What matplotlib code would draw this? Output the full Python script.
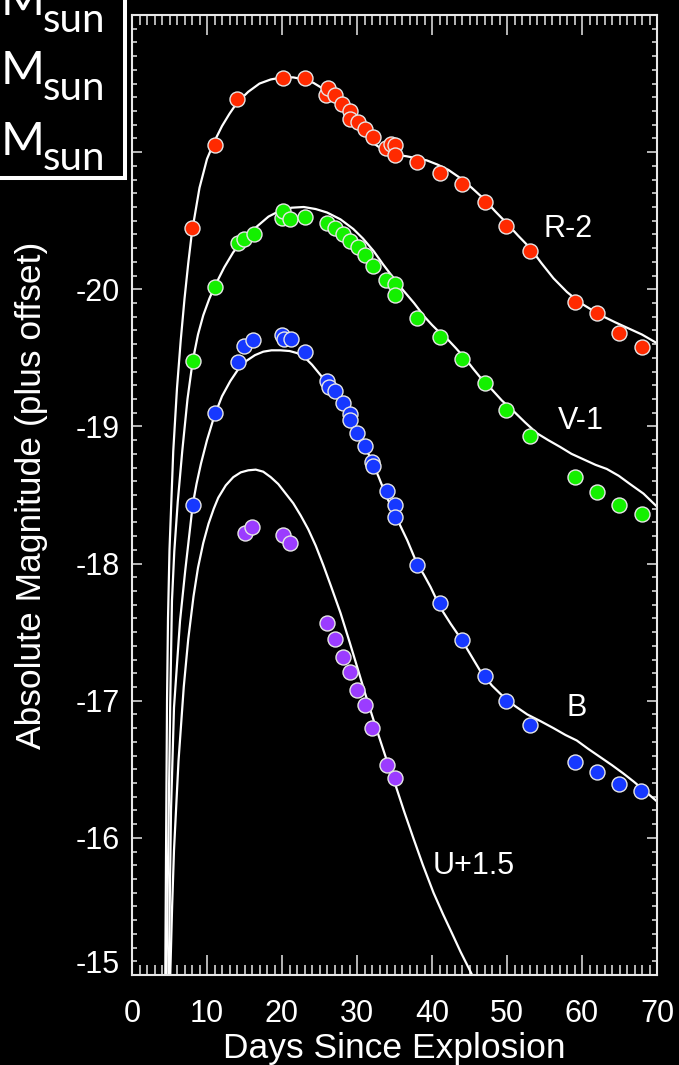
import matplotlib
matplotlib.use('Agg')
import matplotlib.pyplot as plt
from matplotlib.patches import Rectangle
from matplotlib.ticker import MultipleLocator, FuncFormatter

# ---------------- data (plotted magnitudes, offsets already applied) ----------------
R_obs_t = [8.0, 11.1, 14.0, 20.1, 23.0, 25.8, 26.1, 27.1, 28.0, 29.0, 29.1, 30.1, 31.1, 32.1,
           33.8, 34.5, 35.1, 35.1, 38.0, 41.0, 44.0, 47.1, 49.9, 53.0, 59.0, 62.0, 64.9, 68.0]
R_obs_m = [-20.45, -21.05, -21.39, -21.54, -21.54, -21.42, -21.47, -21.42, -21.35, -21.30, -21.24,
           -21.22, -21.17, -21.11, -21.03, -21.06, -21.05, -20.98, -20.93, -20.85, -20.77, -20.64,
           -20.46, -20.28, -19.91, -19.83, -19.68, -19.58]

V_obs_t = [8.1, 11.1, 14.1, 14.9, 16.2, 20.0, 20.1, 21.1, 23.0, 26.0, 27.1, 28.1, 29.1, 30.1, 31.1,
           32.1, 33.9, 35.1, 35.0, 38.0, 41.0, 44.0, 47.1, 49.9, 53.0, 59.0, 62.0, 64.9, 68.0]
V_obs_m = [-19.48, -20.02, -20.34, -20.37, -20.40, -20.52, -20.57, -20.51, -20.53, -20.48, -20.45,
           -20.40, -20.35, -20.31, -20.25, -20.17, -20.07, -20.04, -19.96, -19.79, -19.65, -19.49,
           -19.32, -19.12, -18.93, -18.63, -18.52, -18.43, -18.36]

B_obs_t = [8.1, 11.0, 14.1, 14.9, 16.1, 20.0, 20.2, 21.2, 23.0, 26.0, 26.2, 27.0, 28.1, 29.1, 29.1,
           30.0, 31.0, 32.0, 32.1, 34.0, 35.0, 35.1, 38.0, 41.0, 44.0, 47.0, 49.9, 53.0, 59.0, 62.0,
           64.9, 67.9]
B_obs_m = [-18.43, -19.10, -19.47, -19.59, -19.63, -19.67, -19.64, -19.64, -19.54, -19.33, -19.29,
           -19.26, -19.17, -19.09, -19.05, -18.95, -18.86, -18.74, -18.71, -18.53, -18.43, -18.34,
           -17.99, -17.71, -17.44, -17.18, -17.00, -16.82, -16.55, -16.48, -16.39, -16.34]

U_obs_t = [15.1, 16.0, 20.1, 21.1, 26.0, 27.0, 28.1, 29.0, 30.0, 31.0, 32.0, 34.0, 35.0]
U_obs_m = [-18.22, -18.27, -18.21, -18.15, -17.57, -17.45, -17.32, -17.21, -17.08, -16.97, -16.80,
           -16.53, -16.44]

# model light curves
R_mod_t = [4.44, 4.55, 4.67, 4.8, 5.0, 5.5, 6.0, 6.5, 7.0, 7.5, 8.0, 9.0, 10.0, 11.0, 12.0, 13.0,
           14.0, 15.5, 17.0, 18.5, 20.0, 21.5, 23.0, 24.2, 25.1, 26.0, 26.9, 27.8, 28.7, 29.5, 30.4,
           31.3, 32.2, 33.1, 34.0, 35.3, 36.6, 38.0, 39.3, 40.7, 42.2, 43.8, 45.3, 46.9, 48.4, 50.0,
           51.5, 53.1, 54.6, 56.2, 58.0, 59.8, 61.3, 62.9, 64.4, 66.0, 68.0, 69.9, 71.0]
R_mod_m = [-15.0, -16.0, -17.0, -17.6, -18.1, -18.82, -19.28, -19.63, -19.93, -20.19, -20.42,
           -20.74, -20.95, -21.08, -21.19, -21.28, -21.36, -21.44, -21.50, -21.53, -21.545, -21.545,
           -21.53, -21.505, -21.475, -21.44, -21.405, -21.36, -21.31, -21.25, -21.18, -21.115,
           -21.065, -21.03, -21.00, -20.98, -20.97, -20.955, -20.94, -20.91, -20.87, -20.81, -20.74,
           -20.66, -20.57, -20.48, -20.39, -20.30, -20.19, -20.08, -19.98, -19.90, -19.85, -19.80,
           -19.76, -19.72, -19.67, -19.61, -19.57]

V_mod_t = [4.6, 4.85, 5.1, 5.33, 5.64, 6.1, 6.7, 7.4, 8.1, 8.8, 9.5, 10.3, 11.1, 12.3, 13.5, 15.0,
           16.7, 18.2, 19.8, 21.3, 22.9, 24.5, 26.0, 27.8, 29.5, 30.8, 32.2, 33.5, 34.9, 36.2, 37.6,
           39.0, 40.0, 41.1, 42.0, 43.2, 44.5, 45.5, 46.4, 47.8, 49.3, 50.9, 52.4, 54.0, 55.5, 57.1,
           58.6, 60.2, 61.8, 63.3, 64.9, 66.4, 68.2, 69.9, 71.0]
V_mod_m = [-15.0, -16.0, -17.0, -17.73, -18.09, -18.45, -18.82, -19.2, -19.48, -19.67, -19.81,
           -19.93, -20.03, -20.16, -20.27, -20.37, -20.46, -20.53, -20.575, -20.595, -20.60, -20.585,
           -20.56, -20.51, -20.44, -20.37, -20.28, -20.18, -20.08, -19.99, -19.90, -19.80, -19.74,
           -19.68, -19.64, -19.57, -19.49, -19.42, -19.36, -19.28, -19.19, -19.11, -19.03, -18.95,
           -18.90, -18.85, -18.80, -18.76, -18.72, -18.69, -18.64, -18.58, -18.51, -18.42, -18.36]

B_mod_t = [4.9, 5.2, 5.6, 6.4, 7.1, 8.1, 8.6, 9.2, 10.0, 11.0, 12.0, 13.1, 14.2, 15.3, 16.4, 17.5,
           18.6, 19.8, 21.0, 22.0, 22.9, 24.0, 25.5, 27.0, 28.7, 30.2, 31.8, 32.9, 34.0, 35.3, 36.7,
           38.0, 38.9, 39.8, 41.1, 42.5, 44.0, 45.2, 46.4, 48.0, 49.5, 51.1, 52.7, 54.5, 56.2, 57.8,
           59.3, 60.8, 62.4, 64.0, 65.5, 66.9, 68.2, 69.9, 71.0]
B_mod_m = [-15.0, -16.2, -16.95, -17.58, -17.95, -18.43, -18.58, -18.73, -18.90, -19.08, -19.22,
           -19.33, -19.42, -19.48, -19.52, -19.545, -19.555, -19.555, -19.55, -19.535, -19.51,
           -19.45, -19.35, -19.24, -19.10, -18.94, -18.77, -18.63, -18.48, -18.33, -18.17, -18.00,
           -17.92, -17.83, -17.68, -17.56, -17.44, -17.33, -17.22, -17.11, -17.03, -16.96, -16.90,
           -16.85, -16.80, -16.75, -16.71, -16.65, -16.59, -16.53, -16.47, -16.41, -16.35, -16.27,
           -16.22]

U_mod_t = [5.1, 5.35, 5.6, 6.2, 6.9, 7.5, 8.2, 8.8, 9.5, 10.2, 10.9, 11.5, 12.5, 13.5, 14.5, 15.5,
           16.5, 17.5, 18.5, 19.5, 20.5, 21.5, 22.5, 23.5, 24.5, 25.5, 26.5, 27.8, 29.0, 30.0, 31.1,
           32.2, 33.1, 34.0, 35.1, 36.3, 37.5, 38.8, 40.2, 41.5, 42.7, 43.8, 44.9, 45.8]
U_mod_m = [-15.0, -15.5, -15.91, -16.56, -17.10, -17.45, -17.76, -17.97, -18.15, -18.29, -18.40,
           -18.48, -18.57, -18.63, -18.665, -18.68, -18.685, -18.67, -18.63, -18.58, -18.51, -18.44,
           -18.35, -18.25, -18.13, -17.99, -17.84, -17.64, -17.43, -17.25, -17.05, -16.86, -16.71,
           -16.56, -16.39, -16.19, -16.00, -15.80, -15.60, -15.44, -15.30, -15.17, -15.05, -14.95]

band_labels = ['R-2', 'V-1', 'B', 'U+1.5']
label_t = [58.2, 59.8, 59.3, 45.5]
label_m = [-20.38, -18.98, -16.89, -15.74]

colors = ['#ff2a00', '#14f000', '#1638ff', '#9b3cff']

# ---------------- figure ----------------
plt.rcParams['axes.unicode_minus'] = False
plt.rcParams['font.family'] = ['Liberation Sans', 'DejaVu Sans']

W, H = 679, 1065
fig = plt.figure(figsize=(W / 100, H / 100), dpi=100, facecolor='black')
ax = fig.add_axes([132 / W, 90 / H, 525 / W, 960 / H])
ax.set_facecolor('black')

models = [(R_mod_t, R_mod_m), (V_mod_t, V_mod_m), (B_mod_t, B_mod_m), (U_mod_t, U_mod_m)]
obs = [(R_obs_t, R_obs_m), (V_obs_t, V_obs_m), (B_obs_t, B_obs_m), (U_obs_t, U_obs_m)]

for (t, m) in models:
    ax.plot(t, m, color='white', lw=1.6, zorder=2, solid_joinstyle='round', solid_capstyle='round')
for (t, m), c in zip(obs, colors):
    ax.plot(t, m, 'o', ms=10.8, mfc=c, mec='#e6e6e6', mew=1.0, zorder=3, linestyle='none')

for lab, t, m in zip(band_labels, label_t, label_m):
    ax.text(t, m, lab, color='white', fontsize=22, ha='center', va='baseline', zorder=4)

ax.set_xlim(0, 70)
ax.set_ylim(-15, -22)

ax.xaxis.set_major_locator(MultipleLocator(10))
ax.xaxis.set_minor_locator(MultipleLocator(1))
ax.yaxis.set_major_locator(MultipleLocator(1))
ax.yaxis.set_minor_locator(MultipleLocator(0.1))
# -21/-22 are hidden behind the legend box; -15 is drawn separately (sits a bit above its tick)
ax.yaxis.set_major_formatter(FuncFormatter(
    lambda v, p: '' if (v < -20.5 or v > -15.5) else f'{v:.0f}'))

tc = '#e8e8e8'
ax.tick_params(which='both', direction='in', top=True, right=True, color=tc, labelcolor='white')
ax.tick_params(axis='x', which='major', length=14.4, width=1.1, pad=17, labelsize=22)
ax.tick_params(axis='x', which='minor', length=7.2, width=1.1)
ax.tick_params(axis='y', which='major', length=7.2, width=1.1, pad=8.5, labelsize=22)
ax.tick_params(axis='y', which='minor', length=3.6, width=1.1)
for s in ax.spines.values():
    s.set_color(tc)
    s.set_linewidth(1.5)

ax.annotate('-15', xy=(0, -15), xycoords='data', xytext=(-8.5, 7.0), textcoords='offset points',
            ha='right', va='center', color='white', fontsize=22, annotation_clip=False)

ax.set_xlabel('Days Since Explosion', color='white', fontsize=25.5)
ax.xaxis.set_label_coords(0.5, -0.0590)
ax.set_ylabel('Absolute Magnitude (plus offset)', color='white', fontsize=25.5)
ax.yaxis.set_label_coords(-0.160, 0.5)

# cut-off legend box in the top-left corner
fig.add_artist(Rectangle((-0.05, 1 - 178 / H), 0.05 + 125.5 / W, 0.3, transform=fig.transFigure,
                         facecolor='black', edgecolor='white', linewidth=2.9, zorder=10))
for mb, sb in [(15, 32), (84, 100), (155, 170)]:
    fig.text(1 / W, 1 - mb / H, 'M', color='white', fontsize=34, family=['Lato', 'DejaVu Sans'],
             ha='left', va='baseline', zorder=11)
    fig.text(43 / W, 1 - sb / H, 'sun', color='white', fontsize=29, family=['Lato', 'DejaVu Sans'],
             ha='left', va='baseline', zorder=11)

fig.savefig('out.png', dpi=100, facecolor='black')
